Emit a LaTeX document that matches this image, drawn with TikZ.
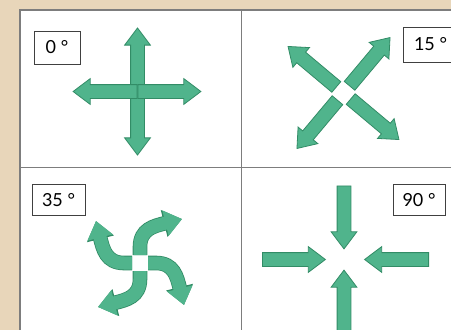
\documentclass[tikz,border=0pt]{standalone}
\usepackage{fontspec}
\setmainfont{Lato}
\usetikzlibrary{shapes.arrows,arrows.meta}
\definecolor{arrowgreen}{RGB}{80,180,140}
\definecolor{arrowedge}{RGB}{50,140,102}
\definecolor{paper}{RGB}{232,214,186}
\definecolor{rulegrey}{RGB}{125,125,125}

\begin{document}
\begin{tikzpicture}[
  x=1pt,y=1pt,
  arr/.style={single arrow, draw=arrowedge, fill=arrowgreen, line width=0.8pt,
    inner xsep=0pt, inner ysep=6.5pt, single arrow head extend=6pt,
    single arrow tip angle=74, anchor=tail},
  darr/.style={double arrow, draw=arrowedge, fill=arrowgreen, line width=0.8pt,
    inner xsep=0pt, inner ysep=6.5pt, double arrow head extend=6pt,
    double arrow tip angle=74},
  degbox/.style={draw=black!75, fill=white, line width=1pt,
    font=\fontsize{18}{20}\selectfont, inner sep=0pt},
  bentedge/.style={line width=14.6pt, arrowedge, -{Triangle[width=26.6pt,length=18.4pt]}},
  bent/.style={line width=13pt, arrowgreen, -{Triangle[width=25pt,length=17pt]}}
]
\useasboundingbox (0,0) rectangle (451,-330);
\fill[paper] (0,0) rectangle (451,-330);
\fill[white] (20,-10) rectangle (451,-330);
\draw[rulegrey, line width=1.8pt] (451,-10) -- (20,-10) -- (20,-330);
\draw[rulegrey, line width=1pt] (20,-167) -- (451,-167);
\draw[rulegrey, line width=1pt] (241,-10) -- (241,-330);

% 0 degrees: plain cross
\coordinate (crossc) at (137.5,-91.5);
\node[darr, rotate=90, minimum height=127pt] (crossv) at (crossc) {};
\node[arr, rotate=180, minimum height=64pt] (crossl) at (crossc) {};
\node[arr, minimum height=63pt] (crossr) at (crossc) {};
\node[degbox, minimum width=46pt, minimum height=33pt] (deg0) at (57,-47.5) {0 °};

% 15 degrees: arms pulled apart
\coordinate (xc) at (343.5,-93);
\foreach \a in {50,140,230,320}
  \node[arr, rotate=\a, minimum height=63pt] (x\a) at ([shift={(\a:9)}]xc) {};
\node[degbox, anchor=west, minimum width=54pt, minimum height=35pt] (deg15) at (403,-44.5) {15 °};

% 35 degrees: bent arms
\coordinate (pw) at (140,-263);
\foreach \r in {0,90,180,270}{
  \begin{scope}[shift={(pw)}, rotate=\r]
    \draw[bentedge] (0,8) -- (0,16) .. controls (0,34) and (14,37) .. (42,44);
    \draw[bent] (0,8) -- (0,16) .. controls (0,34) and (14,37) .. (42,44);
  \end{scope}
}
\node[degbox, minimum width=53pt, minimum height=31pt] (deg35) at (58.5,-200) {35 °};

% 90 degrees: arms pointing inward
\coordinate (inc) at (344,-259.5);
\foreach \a/\d/\l in {-90/74/63, 0/82/63, 180/85/64, 90/74/63}
  \node[arr, rotate=\a, minimum height=\l pt] (in\a) at ([shift={(\a+180:\d)}]inc) {};
\node[degbox, minimum width=52pt, minimum height=31pt] (deg90) at (419,-200) {90 °};
\end{tikzpicture}
\end{document}
